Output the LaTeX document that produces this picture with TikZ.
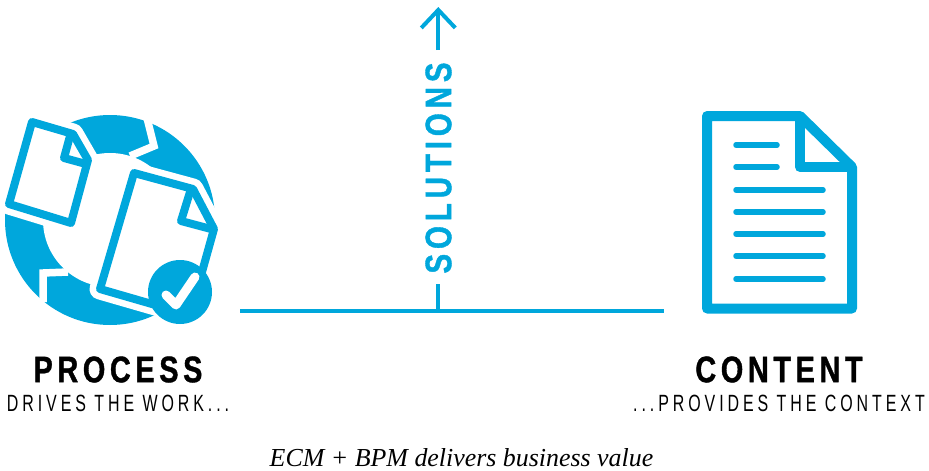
\documentclass[tikz,border=0pt]{standalone}
\usepackage{fontspec}
\setmainfont{Liberation Serif}
\newfontfamily\headfont[FakeStretch=0.78,LetterSpace=12.5,BoldFont={Liberation Sans Bold},BoldFeatures={FakeBold=1}]{Liberation Sans}
\newfontfamily\sidefont[FakeStretch=0.8,LetterSpace=13,BoldFont={Liberation Sans Bold},BoldFeatures={FakeBold=1}]{Liberation Sans}
\newfontfamily\subfont[FakeStretch=0.68,LetterSpace=16.7]{Liberation Sans}
\usetikzlibrary{arrows.meta, positioning}
\definecolor{ecmblue}{HTML}{00A7DC}

\begin{document}
\begin{tikzpicture}[
    x=1pt, y=-1pt,
    title/.style={inner sep=0pt, font=\headfont\bfseries\fontsize{37}{37}\selectfont},
    subtitle/.style={inner sep=0pt, font=\subfont\fontsize{23.5}{24}\selectfont},
    axisline/.style={draw=ecmblue, line width=4pt},
    arrow/.style={draw=ecmblue, line width=4pt, -{Straight Barb[length=18pt, width=34pt, line width=4pt]}},
    docline/.style={draw=ecmblue, line width=5.5pt, line cap=round},
    smalledge/.style={draw=ecmblue, fill=white, line width=8pt, line join=round},
    smallfold/.style={draw=ecmblue, line width=8pt, line join=round},
    bigedge/.style={draw=ecmblue, fill=white, line width=10pt, line join=round},
    bigfold/.style={draw=ecmblue, line width=10pt, line join=round},
    halo/.style={draw=white, fill=white, line width=21pt, line join=round},
    gap/.style={draw=white, line width=7.5pt}
]
\useasboundingbox (0,0) rectangle (929,471);

% Process icon (left)
\fill[ecmblue] (110,220) circle (105);
\fill[white] (110,220) circle (67);
\draw[gap] (147,118) -- (154,146) -- (130,156);
\draw[gap] (43,302) -- (43,273) -- (68,272);
\path[halo] (32,122) -- (73,134) -- (88,160) -- (71,223) -- (9,204) -- cycle;
\path[smalledge] (32,122) -- (73,134) -- (88,160) -- (71,223) -- (9,204) -- cycle;
\path[smallfold] (70,136) -- (64,158) -- (86,164);
\path[halo] (134,173) -- (193,189) -- (214,229) -- (190,315) -- (100,289) -- cycle;
\path[smalledge] (134,173) -- (193,189) -- (214,229) -- (190,315) -- (100,289) -- cycle;
\path[smallfold] (190,192) -- (181,221) -- (211,229);
\fill[ecmblue] (180,292) circle (32);
\draw[white, line width=9pt, line cap=round, line join=round] (166,295) -- (176,305) -- (195,277);

% Content icon (right)
\path[bigedge] (707,116) -- (800,116) -- (852,167) -- (852,308.5) -- (707,308.5) -- cycle;
\path[bigfold] (800,116) -- (800,167) -- (852,167);
\foreach \y in {145,167} \draw[docline] (736,\y) -- (777,\y);
\foreach \y in {190,212,234,256,279} \draw[docline] (736,\y) -- (823,\y);

% Axis and arrow
\coordinate (axisleft) at (240,310.5);
\coordinate (axisright) at (664,310.5);
\coordinate (axismid) at (438.3,310.5);
\node[rotate=90, inner sep=0pt, text=ecmblue, font=\sidefont\bfseries\fontsize{37}{37}\selectfont] (solutions) at (438.5,168) {SOLUTIONS};
\coordinate (stemtop) at (438.3,284);
\coordinate (arrowfoot) at (438.3,50);
\coordinate (arrowtip) at (438.3,7);
\draw[axisline] (axisleft) -- (axisright);
\draw[axisline] (axismid) -- (stemtop);
\draw[arrow] (arrowfoot) -- (arrowtip);

% Labels
\node[title] (process) at (118,369.5) {PROCESS};
\node[title] (content) at (779,369.5) {CONTENT};
\node[subtitle, below=12pt of process] (drives) {DRIVES THE WORK...};
\node[subtitle, below=12pt of content] (provides) {...PROVIDES THE CONTEXT};
\node[inner sep=0pt, font=\itshape\fontsize{25.9}{26}\selectfont] (caption) at (461.5,458) {ECM + BPM delivers business value};
\end{tikzpicture}
\end{document}
